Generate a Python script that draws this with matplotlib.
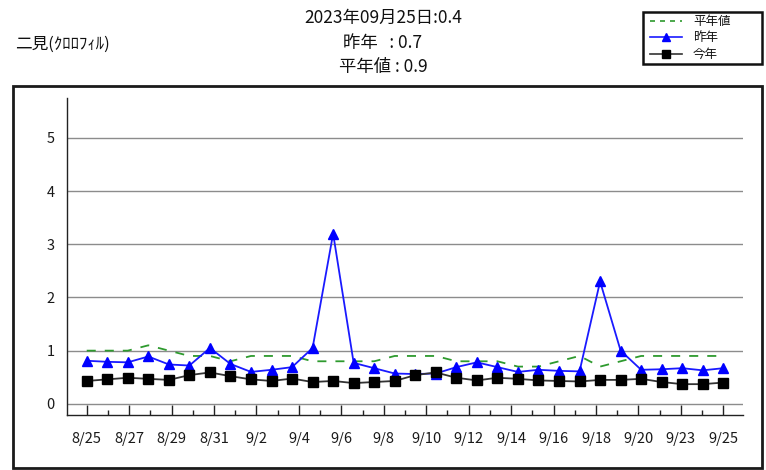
import matplotlib
matplotlib.use("Agg")
import matplotlib.pyplot as plt
from matplotlib.patches import Rectangle
from matplotlib.lines import Line2D
import numpy as np

plt.rcParams['font.family'] = ['Noto Sans CJK JP', 'DejaVu Sans']

# ---- data ----
tick_labels = ["8/25", "8/27", "8/29", "8/31", "9/2", "9/4", "9/6", "9/8",
               "9/10", "9/12", "9/14", "9/16", "9/18", "9/20", "9/23", "9/25"]

heinen = [1.0, 1.0, 1.0, 1.1, 1.0, 0.9, 0.9, 0.8, 0.9, 0.9, 0.9, 0.8, 0.8, 0.8, 0.8, 0.9,
          0.9, 0.9, 0.8, 0.8, 0.8, 0.7, 0.7, 0.8, 0.9, 0.7, 0.8, 0.9, 0.9, 0.9, 0.9, 0.9]

sakunen = [0.81, 0.79, 0.78, 0.89, 0.74, 0.72, 1.05, 0.75, 0.60, 0.64, 0.69, 1.05, 3.2, 0.77, 0.67, 0.57,
           0.56, 0.57, 0.69, 0.78, 0.69, 0.60, 0.64, 0.62, 0.61, 2.3, 1.0, 0.64, 0.65, 0.67, 0.63, 0.67]

konnen = [0.43, 0.46, 0.49, 0.47, 0.45, 0.54, 0.59, 0.52, 0.46, 0.43, 0.475, 0.41, 0.43, 0.39, 0.41, 0.43,
          0.54, 0.59, 0.49, 0.44, 0.49, 0.47, 0.44, 0.43, 0.42, 0.45, 0.45, 0.47, 0.41, 0.37, 0.37, 0.40]

title_lines = ["2023年09月25日:0.4", "昨年   : 0.7", "平年値 : 0.9"]
station = "二見(ｸﾛﾛﾌｨﾙ)"
legend_names = ["平年値", "昨年", "今年"]

# ---- figure ----
fig = plt.figure(figsize=(7.66, 4.70), dpi=100)
W, H = 766, 470

def fx(px):
    return px / W

def fy(py):
    return 1 - py / H

ax = fig.add_axes([fx(67), fy(415), fx(743) - fx(67), fy(98) - fy(415)])

n = len(konnen)
x = np.arange(n)

green = '#2e9a2e'
blue = '#1a1aff'
dark = '#333333'

ax.plot(x, heinen, color=green, lw=1.3, dashes=(5, 5), zorder=3)
ax.plot(x, sakunen, color=blue, lw=1.3, marker='^', markersize=7,
        markerfacecolor='#0000ff', markeredgecolor='#0000ff', zorder=4)
ax.plot(x, konnen, color=dark, lw=1.3, marker='s', markersize=7,
        markerfacecolor='black', markeredgecolor='black', zorder=5)

ax.set_xlim(-0.96, 31.96)
ax.set_ylim(-0.21, 5.75)

# ticks
nt = 31
tick_pos = np.linspace(0, n - 1, nt)
ax.set_xticks(tick_pos[::2])
ax.set_xticklabels(tick_labels, fontsize=10.5, color='#1a1a1a')
ax.set_xticks(tick_pos[1::2], minor=True)
ax.tick_params(axis='x', which='major', direction='in', length=7, width=1, pad=12, color='#222222')
ax.tick_params(axis='x', which='minor', direction='in', length=3.5, width=1, color='#222222')

ax.set_yticks([0, 1, 2, 3, 4, 5])
ax.set_yticklabels(["0", "1", "2", "3", "4", "5"], fontsize=10.5, color='#1a1a1a')
ax.tick_params(axis='y', direction='out', length=0, pad=9)

ax.yaxis.grid(True, color='#8c8c8c', lw=1)
ax.set_axisbelow(True)

for s in ['top', 'right']:
    ax.spines[s].set_visible(False)
ax.spines['left'].set_color('#222222')
ax.spines['bottom'].set_color('#222222')
ax.spines['left'].set_linewidth(1)
ax.spines['bottom'].set_linewidth(1)

# outer frame
fig.patches.append(Rectangle((fx(13), fy(468)), fx(762) - fx(13), fy(86) - fy(468),
                             transform=fig.transFigure, fill=False,
                             edgecolor='#1a1a1a', lw=2, zorder=0))

# titles
for t, py in zip(title_lines, [18, 43, 67]):
    fig.text(0.5, fy(py), t, ha='center', va='center', fontsize=12.5, color='#111111')

fig.text(fx(15), fy(44), station, ha='left', va='center', fontsize=12, color='#111111')

# legend (manual box)
fig.patches.append(Rectangle((fx(643), fy(64)), fx(762) - fx(643), fy(12) - fy(64),
                             transform=fig.transFigure, fill=True, facecolor='white',
                             edgecolor='#111111', lw=1.8, zorder=10))
leg_styles = [
    dict(color=green, lw=1.2, dashes=(3, 3)),
    dict(color=blue, lw=1.2, marker='^', markersize=6, markevery=[1],
         markerfacecolor='#0000ff', markeredgecolor='#0000ff'),
    dict(color=dark, lw=1.2, marker='s', markersize=6, markevery=[1],
         markerfacecolor='black', markeredgecolor='black'),
]
for name, st, py in zip(legend_names, leg_styles, [21, 37, 54]):
    fig.add_artist(Line2D([fx(650), fx(666), fx(682)], [fy(py)] * 3,
                          transform=fig.transFigure, zorder=11, **st))
    fig.text(fx(693), fy(py), name, ha='left', va='center', fontsize=9,
             color='#111111', zorder=11)

fig.savefig("out.png", dpi=100)
